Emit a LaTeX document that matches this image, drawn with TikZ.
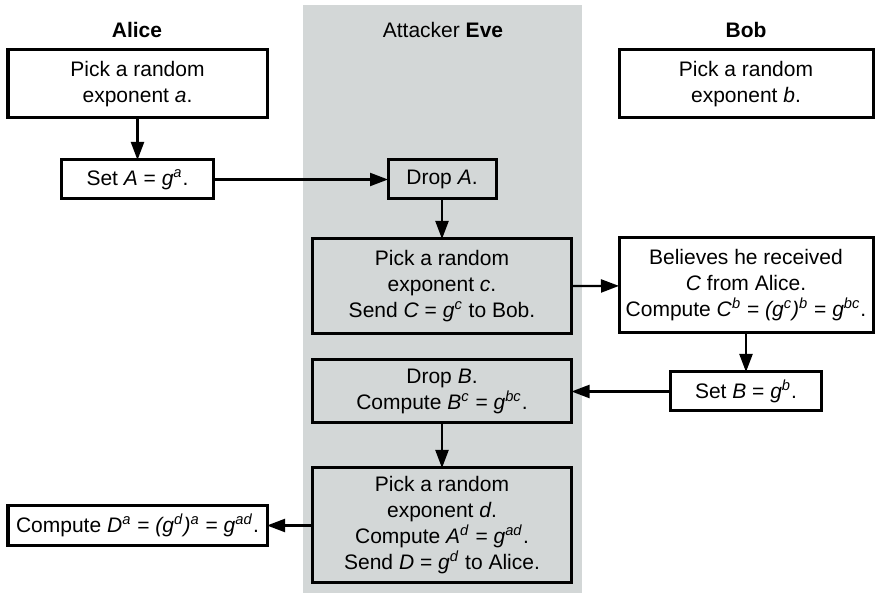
\documentclass[tikz,border=0pt]{standalone}
\usepackage{fontspec}
\setmainfont{Liberation Sans}
\usetikzlibrary{positioning, arrows.meta}
\definecolor{evegray}{RGB}{211,215,215}
\newcommand{\ivar}[1]{\textit{#1}}
\newcommand{\ipow}[1]{\textsuperscript{\textit{#1}}}

\begin{document}
\begin{tikzpicture}[x=0.5pt, y=-0.5pt, font=\fontsize{10.5}{13}\selectfont, box/.style={rectangle,draw,line width=1.5pt,align=center,inner sep=0pt,outer sep=0pt}, wide/.style={box,minimum width=129.5pt}, link/.style={-{Triangle[length=9pt,width=6.5pt]}, line width=1.1pt}, node distance=20pt]
\useasboundingbox (0,0) rectangle (875,593);
\fill [evegray] (303,5) rectangle (582,593);
\node (alice) at (137,30) {\textbf{Alice}};
\node (eve) at (443,30) {Attacker \textbf{Eve}};
\node (bob) at (746,30) {\textbf{Bob}};
\node (a1) [wide, minimum height=34pt] at (137.5,84) {Pick a random\\exponent \ivar{a}.};
\node (a2) [box, minimum width=76pt, minimum height=19.5pt, below=21pt of a1] {Set \ivar{A} = \ivar{g}\ipow{a}.};
\node (e1) [box, minimum width=54pt, minimum height=19.5pt] at (442,179.5) {Drop \ivar{A}.};
\node (e2) [wide, minimum height=47.5pt, below=of e1] {Pick a random\\exponent \ivar{c}.\\Send \ivar{C} = \ivar{g}\ipow{c} to Bob.};
\node (b1) [box, minimum width=127pt, minimum height=34pt] at (746,84) {Pick a random\\exponent \ivar{b}.};
\node (b2) [box, minimum width=127pt, minimum height=47.5pt] at (746,285.5) {Believes he received\\\ivar{C} from Alice.\\Compute \ivar{C}\ipow{b} = \textit{(g}\ipow{c}\textit{)}\ipow{b} = \ivar{g}\ipow{bc}.};
\node (b3) [box, minimum width=75.5pt, minimum height=19.5pt, below=19.5pt of b2] {Set \ivar{B} = \ivar{g}\ipow{b}.};
\node (e3) [wide, minimum height=31.5pt] at (442,391.5) {Drop \ivar{B}.\\Compute \ivar{B}\ipow{c} = \ivar{g}\ipow{bc}.};
\node (e4) [wide, minimum height=57.5pt, below=22.5pt of e3] {Pick a random\\exponent \ivar{d}.\\Compute \ivar{A}\ipow{d} = \ivar{g}\ipow{ad}.\\Send \ivar{D} = \ivar{g}\ipow{d} to Alice.};
\node (a3) [wide, minimum height=20pt] at (137.5,525.5) {Compute \ivar{D}\ipow{a} = \textit{(g}\ipow{d}\textit{)}\ipow{a} = \ivar{g}\ipow{ad}.};
  \begin{scope}
    \draw [link] (a1) -- (a2);
    \draw [link] (a2) -- (e1);
    \draw [link] (e1) -- (e2);
    \draw [link] (e2) -- (b2);
    \draw [link] (b2) -- (b3);
    \draw [link] (b3) -- (e3);
    \draw [link] (e3) -- (e4);
    \draw [link] (e4) -- (a3);
  \end{scope}
\end{tikzpicture}
\end{document}
